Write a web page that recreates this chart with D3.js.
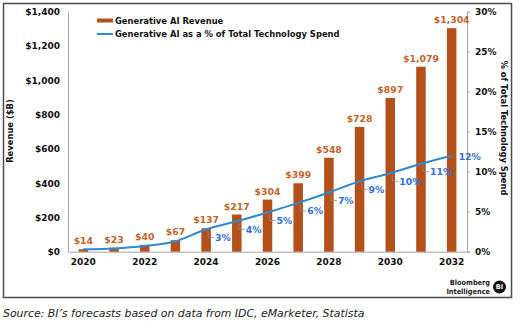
<!DOCTYPE html>
<html>
<head>
<meta charset="utf-8">
<script src="https://cdn.jsdelivr.net/npm/d3@7"></script>
<style>
  body { margin: 0; background: #fff; }
  svg { display: block; font-family: "DejaVu Sans", Verdana, sans-serif; }
</style>
</head>
<body>
<div id="chart"></div>
<script>
// Chart data;
var years = [2020, 2021, 2022, 2023, 2024, 2025, 2026, 2027, 2028, 2029, 2030, 2031, 2032]
var revenue = [14, 23, 40, 67, 137, 217, 304, 399, 548, 728, 897, 1079, 1304]
var shareOfSpend = [0.3, 0.4, 0.7, 1.3, 2.8, 3.8, 4.9, 6.1, 7.4, 8.8, 9.8, 11.0, 12.0]
var revenueTicks = [0, 200, 400, 600, 800, 1000, 1200, 1400]
var shareTicks = [0, 5, 10, 15, 20, 25, 30]
var yearLabels = [2020, 2022, 2024, 2026, 2028, 2030, 2032]

// Layout;
var width = 520
var height = 321
var plot = { left: 68, right: 467, top: 11.7, bottom: 251.7 }

var barColor = "#b4501a"
var barLabelColor = "#c4642a"
var lineColor = "#2c8ad3"
var pctColor = "#2f6fe0"
var axisColor = "#a6a6a6"

const svg = d3.select("#chart").append("svg")
    .attr("width", width)
    .attr("height", height)

// Outer frame;
svg.append("rect")
    .attr("x", 3.5).attr("y", 3.5)
    .attr("width", 508).attr("height", 294)
    .attr("fill", "none")
    .attr("stroke", "#4d4d4d")
    .attr("stroke-width", 1.5)

/////////////////////////////
// Scales;

var x = d3.scaleBand()
    .domain(years)
    .range([plot.left, plot.right])
    .paddingInner(0.69)
    .paddingOuter(0.345)

var yLeft = d3.scaleLinear().domain([0, 1400]).range([plot.bottom, plot.top])
var yRight = d3.scaleLinear().domain([0, 30]).range([plot.bottom, plot.top])

var xc = d => x(d) + x.bandwidth() / 2
var fmtMoney = d => "$" + d3.format(",")(d)

/////////////////////////////
// Axes;

const leftAxis = svg.append("g")
    .attr("transform", `translate(${plot.left},0)`)
    .call(d3.axisLeft(yLeft).tickValues(revenueTicks).tickSize(0).tickPadding(8).tickFormat(fmtMoney))
leftAxis.select(".domain").attr("stroke", axisColor)

const rightAxis = svg.append("g")
    .attr("transform", `translate(${plot.right},0)`)
    .call(d3.axisRight(yRight).tickValues(shareTicks).tickSize(3).tickPadding(5).tickFormat(d => d + "%"))
rightAxis.select(".domain").attr("stroke", axisColor)
rightAxis.selectAll(".tick line").attr("stroke", axisColor)

const bottomAxis = svg.append("g")
    .attr("transform", `translate(0,${plot.bottom})`)
    .call(d3.axisBottom(x).tickValues(yearLabels).tickSize(0).tickPadding(7))
bottomAxis.select(".domain").attr("stroke", axisColor)

svg.selectAll(".tick text")
    .attr("font-family", "DejaVu Sans, sans-serif")
    .attr("font-size", 9)
    .attr("font-weight", "bold")
    .attr("fill", "#111")

// Axis titles;
svg.append("text")
    .attr("transform", "translate(13,131) rotate(-90)")
    .attr("text-anchor", "middle")
    .attr("font-size", 8.4)
    .attr("font-weight", "bold")
    .attr("fill", "#111")
    .text("Revenue ($B)")

svg.append("text")
    .attr("transform", "translate(501,128) rotate(90)")
    .attr("text-anchor", "middle")
    .attr("font-size", 8.4)
    .attr("font-weight", "bold")
    .attr("fill", "#111")
    .text("% of Total Technology Spend")

/////////////////////////////
// Bars and their value labels;

var barData = years.map((year, i) => ({ year: year, value: revenue[i] }))

svg.selectAll("rect.bar")
    .data(barData)
    .join("rect")
    .attr("class", "bar")
    .attr("x", d => x(d.year))
    .attr("y", d => yLeft(d.value))
    .attr("width", x.bandwidth())
    .attr("height", d => yLeft(0) - yLeft(d.value))
    .attr("fill", barColor)

svg.selectAll("text.bar-label")
    .data(barData)
    .join("text")
    .attr("class", "bar-label")
    .attr("x", d => xc(d.year))
    .attr("y", d => yLeft(d.value) - 5)
    .attr("text-anchor", "middle")
    .attr("font-size", 9.3)
    .attr("font-weight", "bold")
    .attr("fill", barLabelColor)
    .text(d => fmtMoney(d.value))

/////////////////////////////
// Share-of-spend line with labels;

var lineData = years.map((year, i) => ({ year: year, value: shareOfSpend[i] }))

svg.append("path")
    .datum(lineData)
    .attr("fill", "none")
    .attr("stroke", lineColor)
    .attr("stroke-width", 2)
    .attr("d", d3.line()
        .x(d => xc(d.year))
        .y(d => yRight(d.value))
        .curve(d3.curveMonotoneX))

// Only the points from 2024 on carry a label; the last one sits beside the line end;
var labelled = lineData.filter(d => d.year >= 2024)
var lastYear = years[years.length - 1]
var labelOffset = d => d.year == lastYear ? [7, 1] : [9, 8]

svg.selectAll("path.leader")
    .data(labelled.filter(d => d.year != lastYear))
    .join("path")
    .attr("class", "leader")
    .attr("fill", "none")
    .attr("stroke", "#8c8c8c")
    .attr("stroke-width", 0.8)
    .attr("d", d => {
        const px = xc(d.year) + 2, py = yRight(d.value) + 2
        const [dx, dy] = labelOffset(d)
        return `M${px},${py}V${py + dy - 2}H${px + dx - 3}`
    })

svg.selectAll("text.pct-label")
    .data(labelled)
    .join("text")
    .attr("class", "pct-label")
    .attr("x", d => xc(d.year) + labelOffset(d)[0])
    .attr("y", d => yRight(d.value) + labelOffset(d)[1])
    .attr("dy", "0.35em")
    .attr("font-size", 9.3)
    .attr("font-weight", "bold")
    .attr("fill", pctColor)
    .text(d => Math.round(d.value) + "%")

/////////////////////////////
// Legend;

const legend = svg.append("g").attr("font-size", 8.4).attr("font-weight", "bold").attr("fill", "#111")
legend.append("rect").attr("x", 97).attr("y", 18.5).attr("width", 16).attr("height", 4).attr("fill", barColor)
legend.append("text").attr("x", 115).attr("y", 20.7).attr("dy", "0.35em").text("Generative AI Revenue")
legend.append("line").attr("x1", 97).attr("x2", 113).attr("y1", 34).attr("y2", 34)
    .attr("stroke", lineColor).attr("stroke-width", 2)
legend.append("text").attr("x", 115).attr("y", 34.5).attr("dy", "0.35em").text("Generative AI as a % of Total Technology Spend")

/////////////////////////////
// Branding and source;

const brand = svg.append("g").attr("font-size", 7.3).attr("fill", "#222").attr("text-anchor", "end")
    .attr("font-family", "DejaVu Sans Condensed, DejaVu Sans, sans-serif").attr("font-weight", "bold")
brand.append("text").attr("x", 490).attr("y", 285).text("Bloomberg")
brand.append("text").attr("x", 490).attr("y", 293.5).text("Intelligence")
svg.append("circle").attr("cx", 499.5).attr("cy", 287).attr("r", 6.5).attr("fill", "#111")
svg.append("text").attr("x", 499.5).attr("y", 287).attr("dy", "0.35em")
    .attr("text-anchor", "middle").attr("font-size", 6.5).attr("font-weight", "bold").attr("fill", "#fff").text("BI")

svg.append("text")
    .attr("x", 3)
    .attr("y", 317)
    .attr("font-size", 10.9)
    .attr("font-style", "italic")
    .attr("fill", "#222")
    .text("Source: BI’s forecasts based on data from IDC, eMarketer, Statista")
</script>
</body>
</html>
